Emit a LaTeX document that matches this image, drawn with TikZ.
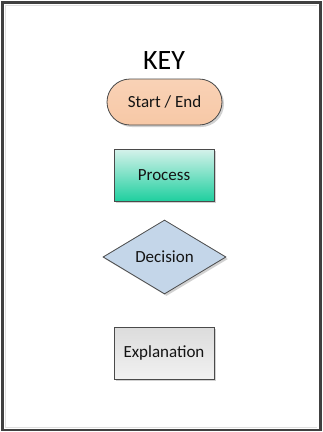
\documentclass[tikz,border=0pt]{standalone}
\usepackage{fontspec}
\setmainfont{Carlito}
\usetikzlibrary{shapes.geometric,shadows}
\definecolor{frame}{HTML}{404040}
\definecolor{edge}{HTML}{4A4A4A}
\definecolor{peach}{HTML}{F7C8A6}
\definecolor{peachtop}{HTML}{F9D2B6}
\definecolor{teal}{HTML}{1FCF9F}
\definecolor{tealtop}{HTML}{D6F2EB}
\definecolor{decblue}{HTML}{C4D6E9}
\definecolor{greytop}{HTML}{DCDCDC}
\definecolor{greybot}{HTML}{F1F1F1}
\definecolor{txt}{HTML}{141414}
\begin{document}
\begin{tikzpicture}[x=1pt,y=-1pt,
  shp/.style={draw=edge, line width=0.8pt, text=txt, font=\fontsize{17}{20}\selectfont, inner sep=0pt,
    drop shadow={shadow xshift=2pt, shadow yshift=-2pt, fill=black, opacity=0.18}},
  term/.style={shp, rectangle, rounded corners=23pt, minimum width=115pt, minimum height=46pt, top color=peachtop, bottom color=peach},
  proc/.style={shp, rectangle, minimum width=100pt, minimum height=52pt, top color=tealtop, bottom color=teal},
  dec/.style={shp, diamond, minimum width=123pt, minimum height=74pt, aspect=1.66, fill=decblue},
  expl/.style={shp, rectangle, minimum width=100pt, minimum height=52pt, top color=greytop, bottom color=greybot},
  keytext/.style={text=black, font=\fontsize{28}{32}\selectfont, inner sep=0pt}
]
\useasboundingbox (0,0) rectangle (323,432);
\fill[white] (0,0) rectangle (323,432);
\draw[gray!25, line width=1pt] (317,5.5) -- (5.5,5.5) -- (5.5,427.5) -- (317,427.5);
\draw[frame, line width=2.7pt] (2.65,2.65) rectangle (320.35,430);
\node[keytext] (key) at (164,61) {KEY};
\node[term] (start) at (164.5,102) {Start / End};
\node[proc] (proc) at (164,175) {Process};
\node[dec] (dec) at (164.5,257) {Decision};
\node[expl] (expl) at (164,353) {Explanation};
\end{tikzpicture}
\end{document}
